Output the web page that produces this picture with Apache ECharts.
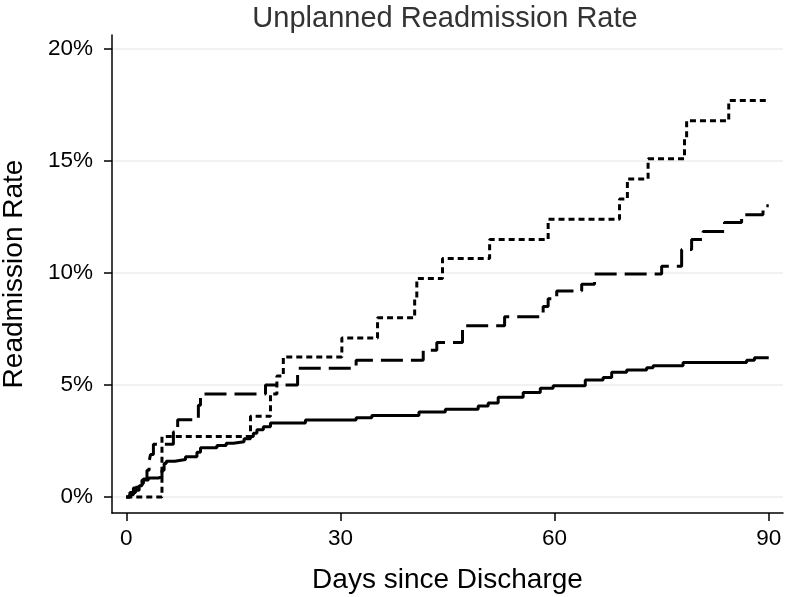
<!DOCTYPE html>
<html>
<head>
<meta charset="utf-8">
<script src="https://cdn.jsdelivr.net/npm/echarts@6/dist/echarts.min.js"></script>
<style>
html,body{margin:0;padding:0;background:#fff;}
#chart{width:786px;height:597px;}
</style>
</head>
<body>
<div id="chart"></div>
<script>
// Days since discharge & cumulative readmission rate (%) for three groups
const solidDays  = [0,0.5,1.0,1.3,1.8,2.2,3.1,4.5,5.0,5.3,5.6,6.8,8.3,9.9,10.4,12.7,14.0,15.0,16.5,17.4,17.8,18.3,19.2,20.2,25.1,32.2,34.4,41.0,44.7,49.3,50.7,52.1,55.6,58.0,59.8,64.3,66.8,68.0,70.1,72.9,73.8,78.0,86.9,88.0,90];
const solidRates = [0,0.1,0.2,0.3,0.5,0.76,0.85,0.9,1.2,1.5,1.6,1.67,1.8,2.0,2.2,2.3,2.4,2.47,2.6,2.7,2.85,3.0,3.14,3.3,3.44,3.54,3.64,3.8,3.92,4.06,4.2,4.45,4.66,4.85,4.97,5.22,5.34,5.57,5.67,5.77,5.86,6.0,6.1,6.22,6.22];

const dashDays  = [0,0.5,1.0,1.5,2.4,2.9,3.2,3.4,3.8,6.6,7.2,10.1,10.4,19.5,24.0,32.2,41.6,43.5,47.1,53.0,58.4,59.1,60.3,63.8,65.6,75.0,77.8,79.2,80.8,83.8,86.2,89.2,90];
const dashRates = [0,0.2,0.4,0.6,0.8,1.2,1.6,1.9,2.35,2.9,3.45,4.1,4.6,5.0,5.75,6.1,6.55,6.9,7.65,8.05,8.5,8.85,9.2,9.5,9.95,10.3,11.05,11.5,11.85,12.25,12.6,13.0,13.0];

const dotDays  = [0,5.0,17.4,20.2,21.1,22.0,30.2,35.2,40.4,40.7,44.3,50.9,59.1,69.1,70.2,73.1,78.2,78.5,84.4,90];
const dotRates = [0,2.7,3.6,4.6,5.4,6.25,7.1,8.0,8.9,9.75,10.65,11.5,12.4,13.3,14.2,15.1,16.0,16.8,17.7,17.7];

const xTicks = [0,30,60,90];
const yTicks = [0,5,10,15,20];

const pairs = (xs, ys) => xs.map((x, i) => [x, ys[i]]);

const chart = echarts.init(document.getElementById('chart'), null, {renderer: 'canvas'});
const FONT = 'Liberation Sans, Arial, Helvetica, sans-serif';
const mkSeries = (data, type, width) => ({
  type: 'line',
  step: 'end',
  data: data,
  showSymbol: false,
  symbol: 'none',
  animation: false,
  lineStyle: {color: '#000', width: width, type: type, cap: 'butt'}
});

chart.setOption({
  animation: false,
  backgroundColor: '#fff',
  title: {
    text: 'Unplanned Readmission Rate',
    left: 445, textAlign: 'center', top: 4, padding: 0,
    textStyle: {fontFamily: FONT, fontSize: 29, fontWeight: 'normal', color: '#333'}
  },
  grid: {left: 112, right: 3, top: 35, bottom: 84, containLabel: false, outerBoundsMode: 'none'},
  xAxis: {
    type: 'value', min: -2, max: 92,
    name: 'Days since Discharge', nameLocation: 'middle', nameGap: 53,
    nameTextStyle: {fontFamily: FONT, fontSize: 28, color: '#000'},
    axisLine: {show: true, onZero: false, lineStyle: {color: '#000', width: 1.5}},
    axisTick: {show: true, customValues: xTicks, length: 8, lineStyle: {color: '#000', width: 1.5}},
    axisLabel: {customValues: xTicks, margin: 14, fontFamily: FONT, fontSize: 22.5, color: '#000'},
    splitLine: {show: false}
  },
  yAxis: {
    type: 'value', min: -0.714, max: 20.625,
    name: 'Readmission Rate', nameLocation: 'middle', nameGap: 84,
    nameTextStyle: {fontFamily: FONT, fontSize: 28, color: '#000'},
    axisLine: {show: true, onZero: false, lineStyle: {color: '#000', width: 1.5}},
    axisTick: {show: true, customValues: yTicks, length: 8, lineStyle: {color: '#000', width: 1.5}},
    axisLabel: {customValues: yTicks, margin: 19, fontFamily: FONT, fontSize: 22.5, color: '#000',
      formatter: v => v + '%'},
    splitLine: {show: true, lineStyle: {color: '#eeeeee', width: 1.5}}
  },
  series: [
    mkSeries(pairs(solidDays, solidRates), 'solid', 3),
    mkSeries(pairs(dashDays, dashRates), [22, 8], 3),
    mkSeries(pairs(dotDays, dotRates), [6, 4], 3)
  ]
});
</script>
</body>
</html>
